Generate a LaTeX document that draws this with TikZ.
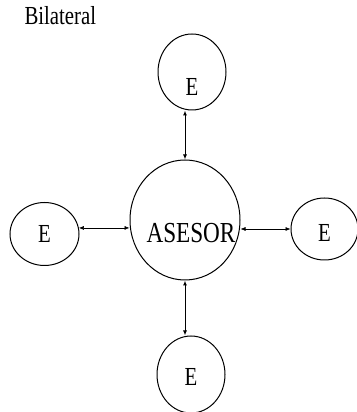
\documentclass[tikz,border=0pt]{standalone}
\usepackage{fontspec}
\setmainfont{Liberation Serif}[FakeStretch=0.8]
\usetikzlibrary{positioning,shapes.geometric,arrows.meta}

\begin{document}
\begin{tikzpicture}[
    unit/.style={draw, ellipse, line width=1pt, inner sep=0pt, text depth=0pt,
        font=\fontsize{26}{30}\selectfont},
    link/.style={{Latex[length=5pt,width=4pt]}-{Latex[length=5pt,width=4pt]}},
    ]
    \useasboundingbox (0,0) rectangle (356pt,412pt);

    \node (title) [anchor=base west, font=\fontsize{26}{30}\selectfont] at (21pt,387pt) {Bilateral};

    % centre
    \node (asesor) [unit, minimum width=110pt, minimum height=120pt, text height=45pt,
        font=\fontsize{29}{34}\selectfont] at (185pt,192pt) {\makebox[0pt]{\hspace*{12pt}ASESOR}};

    % the four E around it
    \node (etop) [unit, above=49pt of asesor, xshift=7pt,
        minimum width=68pt, minimum height=76pt, text height=47pt] {E};
    \node (ebottom) [unit, below=55pt of asesor, xshift=6pt,
        minimum width=68pt, minimum height=77pt, text height=23pt] {E};
    \node (eleft) [unit, left=50pt of asesor, yshift=-14pt,
        minimum width=69pt, minimum height=63pt, text height=17pt] {E};
    \node (eright) [unit, right=50pt of asesor, yshift=-9pt,
        minimum width=67pt, minimum height=62pt, text height=25pt] {E};

    \draw[link, line width=1pt] (etop.south -| asesor.north) -- (asesor.north);
    \draw[link, line width=1pt] (asesor.south) -- (asesor.south |- ebottom.north);
    \draw[link, line width=0.6pt] (eleft.10) -- (eleft.10 -| asesor.west);
    \draw[link, line width=0.6pt] (asesor.east |- eright.west) -- (eright.west);
\end{tikzpicture}
\end{document}
